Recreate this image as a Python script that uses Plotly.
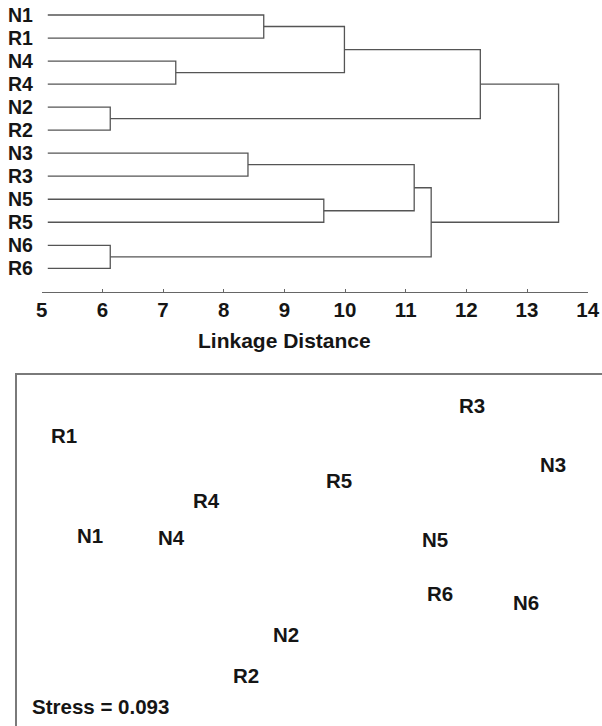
import plotly.graph_objects as go

# ---------------- data ----------------
leaves = ["N1", "R1", "N4", "R4", "N2", "R2", "N3", "R3", "N5", "R5", "N6", "R6"]
leaf_start = 5.1
# merges: (child A, child B, linkage distance); new cluster ids are "c0", "c1", ...
merge_a = ["N1", "N4", "N2", "N3", "N5", "N6", "c0", "c6", "c3", "c8", "c7"]
merge_b = ["R1", "R4", "R2", "R3", "R5", "R6", "c1", "c2", "c4", "c5", "c9"]
merge_h = [8.66, 7.21, 6.13, 8.40, 9.65, 6.13, 9.99, 12.23, 11.14, 11.42, 13.52]
x_ticks = [5, 6, 7, 8, 9, 10, 11, 12, 13, 14]

mds_labels = ["R1", "R4", "N1", "N4", "R3", "N3", "R5", "N5", "N2", "R2", "R6", "N6"]
mds_dim1 = [-2.36, -0.94, -2.10, -1.29, 1.72, 2.53, 0.39, 1.35, -0.14, -0.54, 1.40, 2.26]
mds_dim2 = [1.22, 0.57, 0.22, 0.20, 1.52, 0.93, 0.77, 0.18, -0.77, -1.18, -0.36, -0.45]
stress = 0.093

# ---------------- build dendrogram segments ----------------
pos = {name: (leaf_start, i) for i, name in enumerate(leaves)}
xs, ys = [], []
for k, (a, b, h) in enumerate(zip(merge_a, merge_b, merge_h)):
    xa, ya = pos[a]
    xb, yb = pos[b]
    xs += [xa, h, h, xb, None]
    ys += [ya, ya, yb, yb, None]
    pos["c%d" % k] = (h, (ya + yb) / 2)

W, H = 602, 726
FONT = "Liberation Sans, Arial, sans-serif"
TXT = "#151515"
LINE = "#666666"

fig = go.Figure()
fig.add_trace(go.Scatter(x=xs, y=ys, mode="lines",
                         line=dict(color="#555555", width=1.3),
                         hoverinfo="skip", showlegend=False,
                         xaxis="x", yaxis="y"))
fig.add_trace(go.Scatter(x=mds_dim1, y=mds_dim2, mode="text", text=mds_labels,
                         textposition="middle center",
                         textfont=dict(family=FONT, size=20.5, color=TXT, weight="bold"),
                         showlegend=False, xaxis="x2", yaxis="y2"))

annotations = []
for i, name in enumerate(leaves):
    annotations.append(dict(x=5, y=i, xref="x", yref="y", text=name, showarrow=False,
                            xanchor="right", yanchor="middle", xshift=-7,
                            font=dict(family=FONT, size=19.5, color=TXT, weight="bold")))
annotations.append(dict(x=9, y=1 - 340 / H, xref="x", yref="paper", text="Linkage Distance",
                        showarrow=False, xanchor="center", yanchor="middle",
                        font=dict(family=FONT, size=21, color=TXT, weight="bold")))
annotations.append(dict(x=30 / W, y=1 - 706.7 / H, xref="paper", yref="paper",
                        text="Stress = %.3f" % stress, showarrow=False,
                        xanchor="left", yanchor="middle",
                        font=dict(family=FONT, size=20.5, color=TXT, weight="bold")))

px_per_leaf = 23.03
top_px, axis_px = 5, 291.7
fig.update_layout(
    template="none",
    width=W, height=H, margin=dict(l=0, r=0, t=0, b=0, autoexpand=False),
    paper_bgcolor="white", plot_bgcolor="white",
    xaxis=dict(domain=[41.7 / W, 587.7 / W], range=[5, 14], tickvals=x_ticks,
               showline=True, linecolor=LINE, linewidth=1.3, ticks="inside", ticklen=3,
               tickcolor=LINE, showgrid=False, zeroline=False, automargin=False,
               tickfont=dict(family=FONT, size=20.5, color=TXT, weight="bold"),
               anchor="y"),
    yaxis=dict(domain=[1 - axis_px / H, 1 - top_px / H],
               range=[(axis_px - 15) / px_per_leaf, (top_px - 15) / px_per_leaf],
               visible=False, anchor="x", automargin=False),
    xaxis2=dict(domain=[16.7 / W, 1], range=[(16.7 - 300) / 100, (602 - 300) / 100],
                showline=True, linecolor="#7a7a7a", linewidth=1.5, side="top",
                showticklabels=False, ticks="", showgrid=False, zeroline=False,
                anchor="y2", automargin=False),
    yaxis2=dict(domain=[0, 1 - 375 / H], range=[(560 - 726) / 100, (560 - 375) / 100],
                showline=True, linecolor="#7a7a7a", linewidth=1.5, side="left",
                showticklabels=False, ticks="", showgrid=False, zeroline=False,
                anchor="x2", automargin=False),
    annotations=annotations,
)

fig.write_html("out.html")
